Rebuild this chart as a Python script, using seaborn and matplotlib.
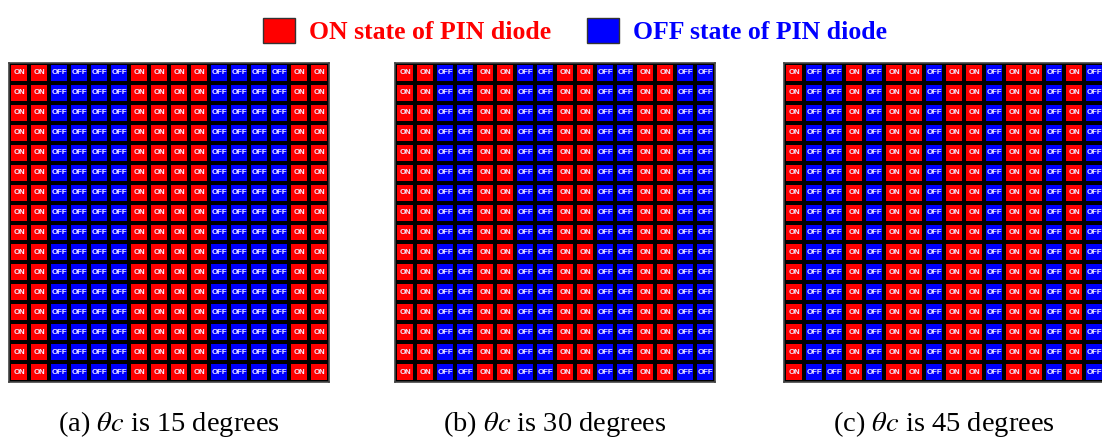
import numpy as np
import matplotlib
matplotlib.use("Agg")
import matplotlib.pyplot as plt
import seaborn as sns
from matplotlib.colors import ListedColormap
from matplotlib.patches import Patch

# Column states (1 = ON, 0 = OFF); every row of a panel repeats the same pattern
cols_15 = [1, 1, 0, 0, 0, 0, 1, 1, 1, 1, 0, 0, 0, 0, 1, 1]
cols_30 = [1, 1, 0, 0, 1, 1, 0, 0, 1, 1, 0, 0, 1, 1, 0, 0]
cols_45 = [1, 0, 0, 1, 0, 1, 1, 0, 1, 1, 0, 1, 1, 0, 1, 0]
n_rows = 16
captions = [r"(a) $\theta c$ is 15 degrees",
            r"(b) $\theta c$ is 30 degrees",
            r"(c) $\theta c$ is 45 degrees"]
state_labels = ["OFF", "ON"]
legend_labels = ["ON state of PIN diode", "OFF state of PIN diode"]

sns.set_theme(style="white")
plt.rcParams["font.family"] = ["Liberation Serif", "DejaVu Serif"]
plt.rcParams["mathtext.fontset"] = "stix"

W, H = 1102, 441
fig = plt.figure(figsize=(W / 100, H / 100), dpi=100)

cmap = ListedColormap(["#0000ff", "#ff0000"])
lefts = [9, 395, 784]
grid_w, grid_top, grid_bot = 320, 63, 382

for cols, left, cap in zip([cols_15, cols_30, cols_45], lefts, captions):
    mat = np.tile(np.array(cols), (n_rows, 1))
    annot = np.array([[state_labels[v] for v in row] for row in mat])
    ax = fig.add_axes([left / W, (H - grid_bot) / H, grid_w / W, (grid_bot - grid_top) / H])
    sns.heatmap(mat, ax=ax, cmap=cmap, vmin=0, vmax=1, cbar=False,
                annot=annot, fmt="",
                annot_kws={"fontsize": 5.6, "fontweight": "bold", "color": "#f2eeff",
                           "family": "Liberation Sans"},
                linewidths=1.6, linecolor="black", square=False)
    ax.set_xticks([])
    ax.set_yticks([])
    for s in ax.spines.values():
        s.set_visible(True)
        s.set_color("#444444")
        s.set_linewidth(1.2)
    fig.text((left + grid_w / 2) / W, 1 - 424 / H, cap, ha="center", va="center",
             fontsize=20.5, color="black")

handles = [Patch(facecolor="#ff0000", edgecolor="#333333"),
           Patch(facecolor="#0000ff", edgecolor="#333333")]
leg = fig.legend(handles, legend_labels, loc="center", bbox_to_anchor=(575 / W, 1 - 31 / H),
                 ncol=2, frameon=False, fontsize=18.5,
                 handlelength=1.25, handleheight=1.1,
                 handletextpad=0.55, columnspacing=1.4)
for t, c in zip(leg.get_texts(), ["#ff0000", "#0000ff"]):
    t.set_color(c)
    t.set_fontweight("bold")

fig.savefig("out.png", dpi=100)
